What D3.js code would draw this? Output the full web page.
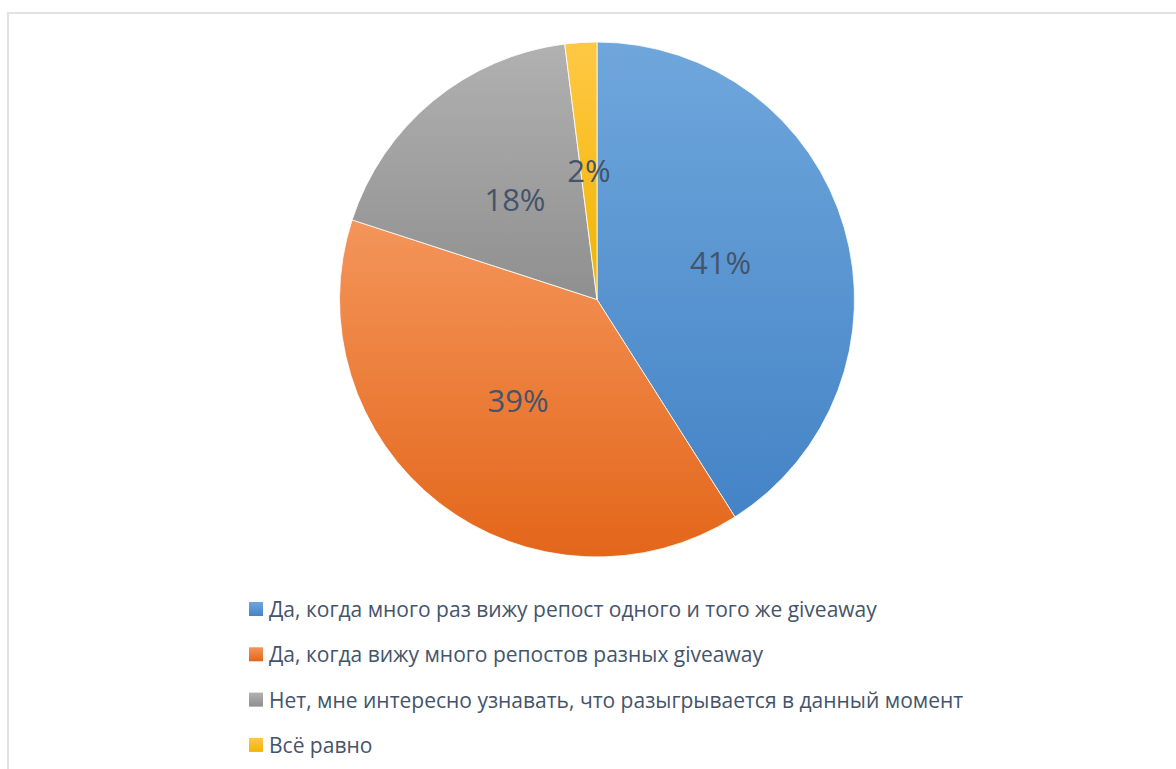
<!DOCTYPE html>
<html>
<head>
<meta charset="utf-8">
<script src="https://cdn.jsdelivr.net/npm/d3@7"></script>
<style>
  html, body { margin: 0; padding: 0; background: #ffffff; }
  svg { display: block; }
</style>
</head>
<body>
<svg id="chart" width="1176" height="769"></svg>
<script>
// Survey answers and their shares (percent)
const categories = [
  "Да, когда много раз вижу репост одного и того же giveaway",
  "Да, когда вижу много репостов разных giveaway",
  "Нет, мне интересно узнавать, что разыгрывается в данный момент",
  "Всё равно"
];
const values = [41, 39, 18, 2];
const labels = ["41%", "39%", "18%", "2%"];
// Slice fills: gradient from light (top) to dark (bottom)
const colorTop = ["#6fa7dc", "#f4955a", "#b1b1b1", "#ffc845"];
const colorBottom = ["#4483c6", "#e3661a", "#8f8f8f", "#f0b400"];

const W = 1176, H = 769;
const svg = d3.select("#chart");
const textColor = "#44546a";
const font = "'Open Sans', 'DejaVu Sans', sans-serif";

// chart frame
svg.append("rect")
  .attr("x", 8).attr("y", 13)
  .attr("width", W + 20).attr("height", H + 20)
  .attr("fill", "#ffffff")
  .attr("stroke", "#dfe3e8")
  .attr("stroke-width", 2);

const defs = svg.append("defs");
categories.forEach((c, i) => {
  const g = defs.append("linearGradient")
    .attr("id", "grad" + i)
    .attr("x1", 0).attr("y1", 0).attr("x2", 0).attr("y2", 1);
  g.append("stop").attr("offset", "0%").attr("stop-color", colorTop[i]);
  g.append("stop").attr("offset", "100%").attr("stop-color", colorBottom[i]);
});

const cx = 597, cy = 299.5, r = 257.5;

const pie = d3.pie().sort(null).value(d => d)(values);
const arc = d3.arc().innerRadius(0).outerRadius(r);

const g = svg.append("g").attr("transform", `translate(${cx},${cy})`);

g.selectAll("path.slice")
  .data(pie)
  .join("path")
  .attr("class", "slice")
  .attr("d", arc)
  .attr("fill", (d, i) => `url(#grad${i})`)
  .attr("stroke", "#ffffff")
  .attr("stroke-width", 0.8);

g.selectAll("text.pct")
  .data(pie)
  .join("text")
  .attr("class", "pct")
  .attr("transform", d => {
    const [x, y] = arc.centroid(d);
    return `translate(${x},${y})`;
  })
  .attr("text-anchor", "middle")
  .attr("dy", "0.35em")
  .attr("fill", textColor)
  .style("font-family", font)
  .style("font-size", "31px")
  .text((d, i) => labels[i]);

// legend
const legend = svg.append("g").attr("transform", "translate(249,602)");
const rowH = 45.3;
const items = legend.selectAll("g.item")
  .data(categories)
  .join("g")
  .attr("class", "item")
  .attr("transform", (d, i) => `translate(0,${i * rowH})`);

items.append("rect")
  .attr("width", 14).attr("height", 14)
  .attr("fill", (d, i) => `url(#grad${i})`);

items.append("text")
  .attr("x", 20)
  .attr("y", 15)
  .attr("fill", textColor)
  .style("font-family", font)
  .style("font-size", "21px")
  .text(d => d);
</script>
</body>
</html>
